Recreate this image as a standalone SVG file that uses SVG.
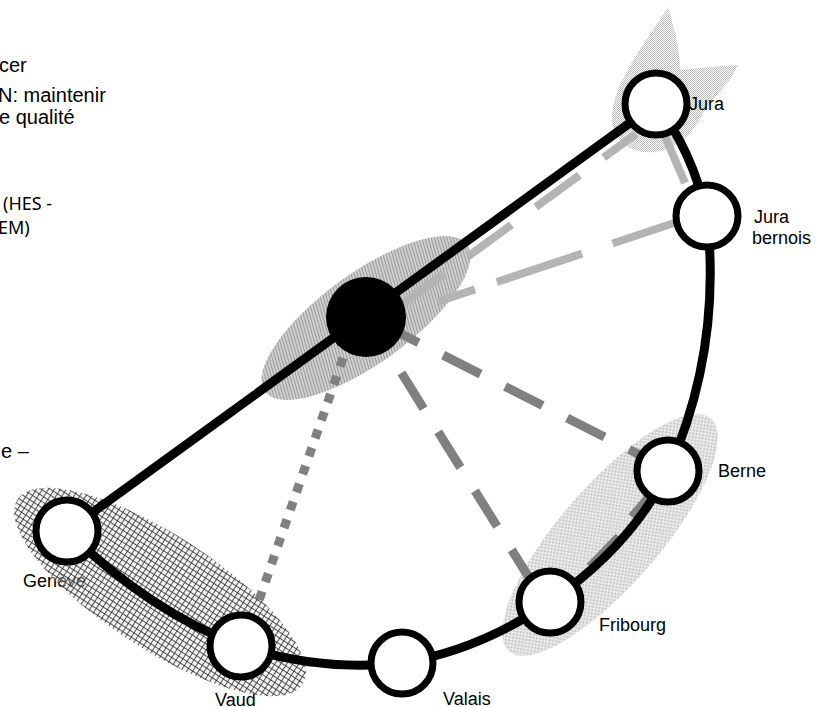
<svg xmlns="http://www.w3.org/2000/svg" width="827" height="707" viewBox="0 0 827 707">
<style>
.lbl{font-family:"Liberation Sans",Arial,sans-serif;font-size:18px;fill:#000}
.txt{font-family:"Liberation Sans",Arial,sans-serif;font-size:20px;fill:#000}
.txt2{font-family:"Noto Sans","Open Sans",sans-serif;font-size:18px;fill:#000}
.node{fill:#fff;stroke:#000;stroke-width:7}
.lg{fill:none;stroke:#b4b4b4;stroke-width:8}
.mg{fill:none;stroke:#808080;stroke-width:9}
.blk{fill:none;stroke:#000;stroke-width:9}
</style>
<defs>
<pattern id="cross" width="5" height="5" patternUnits="userSpaceOnUse"><path d="M0 0.5H5M0.5 0V5" stroke="#2a2a2a" stroke-width="0.8"/></pattern>
<pattern id="diag" width="3" height="3" patternUnits="userSpaceOnUse" patternTransform="rotate(20)"><rect width="3" height="3" fill="#cfcfcf"/><rect width="1" height="3" fill="#9a9a9a"/></pattern>
<pattern id="dots" width="2" height="2" patternUnits="userSpaceOnUse"><rect width="1" height="1" fill="#bcbcbc"/><rect x="1" y="1" width="1" height="1" fill="#bcbcbc"/></pattern>
</defs>

<g id="texts-left">
<text class="txt" x="-1" y="72">cer</text>
<text class="txt" x="-2" y="102">N: maintenir</text>
<text class="txt" x="-1" y="124">e qualité</text>
<text class="txt2" x="3" y="210">(HES -</text>
<text class="txt2" x="-2" y="234">EM)</text>
<text class="txt" x="1" y="458">e –</text>
</g>

<g id="labels-under">
<text class="lbl" x="23" y="587">Genève</text>
<text class="lbl" x="215" y="706">Vaud</text>
</g>

<g id="zones">
<ellipse id="zone-geneve-vaud" cx="160" cy="592" rx="170" ry="57" transform="rotate(33 160 592)" fill="#e6e6e6" fill-opacity="0.45"/>
<ellipse cx="160" cy="592" rx="170" ry="57" transform="rotate(33 160 592)" fill="url(#cross)"/>
<ellipse id="zone-hub" cx="366" cy="318" rx="125" ry="45" transform="rotate(-36 366 318)" fill="url(#diag)"/>
<ellipse id="zone-berne-fribourg" cx="610" cy="535" rx="154" ry="50" transform="rotate(-49 610 535)" fill="url(#dots)"/>
<path id="zone-jura" d="M668,7 C674,28 680,50 680,70 C698,68 718,66 738,65 C730,84 714,96 704,112 C694,130 682,148 656,152 C630,154 614,142 612,120 C611,88 640,50 668,7 Z" fill="url(#dots)"/>
</g>

<g id="connectors">
<path class="lg" d="M400,306 L636,134" stroke-dasharray="54 30"/>
<path class="lg" d="M437,302 L680,221" stroke-dasharray="40 23 90 32 80"/>
<path class="lg" d="M664,134 L685,183"/>
<path class="mg" d="M366,316 L640,455" stroke-dasharray="42 27.5" stroke-dashoffset="52.5"/>
<path class="mg" d="M366,316 L528,576" stroke-dasharray="42 27.5" stroke-dashoffset="2.5"/>
<path class="mg" d="M343,358 L257,606" stroke-dasharray="9 10"/>
<path class="mg" d="M650,496 L632,517 M619,537 L590,567"/>
<path class="blk" d="M67,531 L656,104"/>
<path class="blk" d="M67,531 Q150,612 241,646 Q320,672 402,663 Q480,650 550,602 Q632,545 668,471 Q722,350 707,216 Q692,150 656,104"/>
</g>

<g id="hub"><circle cx="366" cy="317" r="40" fill="#000"/></g>
<g id="node-jura"><circle class="node" cx="656" cy="104" r="31"/><text class="lbl" x="689" y="110">Jura</text></g>
<g id="node-jura-bernois"><circle class="node" cx="707" cy="216" r="31"/><text class="lbl" x="754" y="223">Jura</text><text class="lbl" x="752" y="244">bernois</text></g>
<g id="node-berne"><circle class="node" cx="668" cy="471" r="31"/><text class="lbl" x="718" y="477">Berne</text></g>
<g id="node-fribourg"><circle class="node" cx="550" cy="602" r="31"/><text class="lbl" x="599" y="631">Fribourg</text></g>
<g id="node-valais"><circle class="node" cx="402" cy="663" r="31"/><text class="lbl" x="443" y="705">Valais</text></g>
<g id="node-vaud"><circle class="node" cx="241" cy="646" r="31"/></g>
<g id="node-geneve"><circle class="node" cx="67" cy="531" r="31"/></g>
</svg>
